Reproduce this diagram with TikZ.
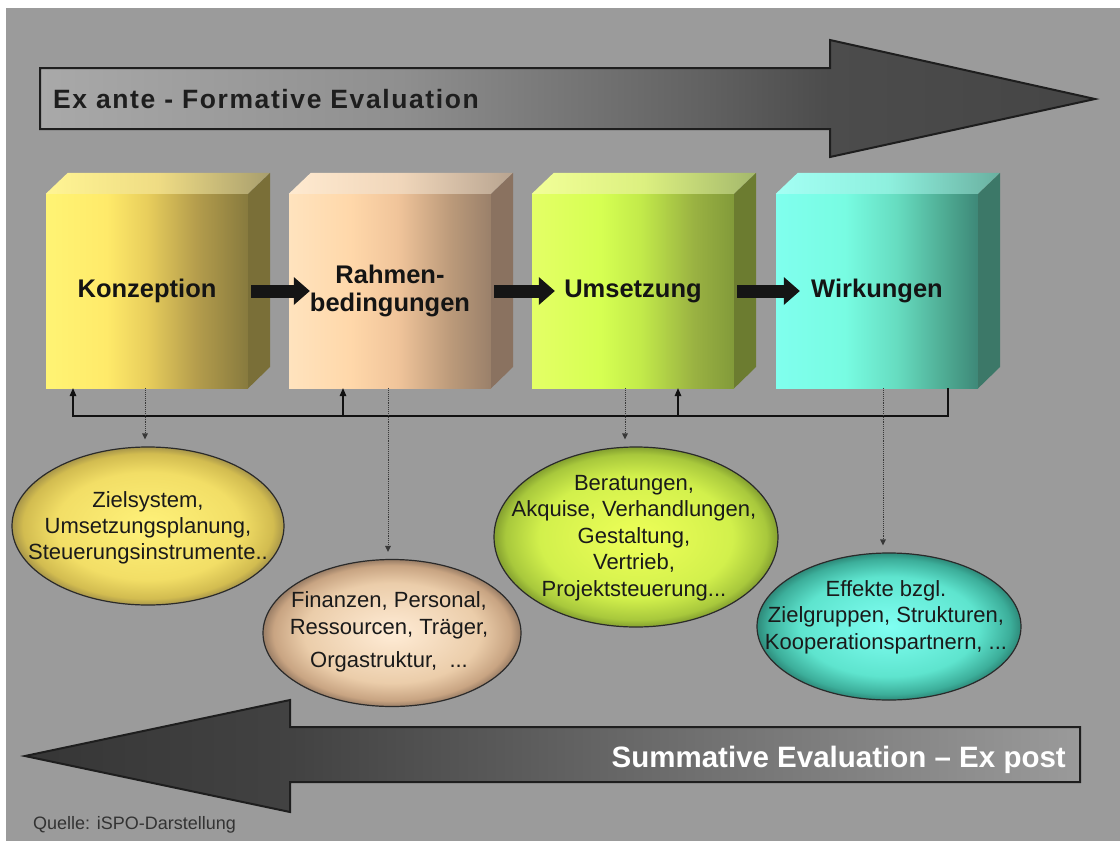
\documentclass[tikz,border=0pt]{standalone}
\usepackage{fontspec}
\setmainfont{Liberation Sans}
\usetikzlibrary{shapes.geometric,arrows.meta}

\definecolor{bggray}{HTML}{9B9B9B}
\definecolor{arrowline}{HTML}{1E1E1E}
\definecolor{titledark}{HTML}{1E1E1E}
\definecolor{labelblack}{HTML}{141414}
\definecolor{textdark}{HTML}{1A1A1A}
\definecolor{outline}{HTML}{2A2A2A}
\definecolor{arrowblack}{HTML}{151515}
\definecolor{fbblack}{HTML}{111111}
\definecolor{dotgray}{HTML}{383838}
\definecolor{quellegray}{HTML}{333333}

% big arrows
\definecolor{xa0}{HTML}{A9A9A9}\definecolor{xa1}{HTML}{8F8F8F}\definecolor{xa2}{HTML}{626262}\definecolor{xa3}{HTML}{4C4C4C}\definecolor{xa4}{HTML}{454545}
\definecolor{sa0}{HTML}{363636}\definecolor{sa1}{HTML}{424242}\definecolor{sa2}{HTML}{595959}\definecolor{sa3}{HTML}{767676}\definecolor{sa4}{HTML}{9A9A9A}
\pgfdeclarehorizontalshading{exanteshade}{100bp}{color(0bp)=(xa0); color(25bp)=(xa0); color(42.1bp)=(xa1); color(56.3bp)=(xa2); color(62.4bp)=(xa3); color(75bp)=(xa4); color(100bp)=(xa4)}
\pgfdeclarehorizontalshading{expostshade}{100bp}{color(0bp)=(sa0); color(25bp)=(sa0); color(37.6bp)=(sa1); color(47.5bp)=(sa2); color(59.4bp)=(sa3); color(75bp)=(sa4); color(100bp)=(sa4)}

% box fronts
\definecolor{fa0}{HTML}{FFF474}\definecolor{fa1}{HTML}{FFEA6A}\definecolor{fa2}{HTML}{E8CE5C}\definecolor{fa3}{HTML}{B39C4C}\definecolor{fa4}{HTML}{877A3E}
\definecolor{fb0}{HTML}{FFE3BE}\definecolor{fb1}{HTML}{FFD8AA}\definecolor{fb2}{HTML}{F0C49A}\definecolor{fb3}{HTML}{BB9A7A}\definecolor{fb4}{HTML}{9A806A}
\definecolor{fc0}{HTML}{E4FF66}\definecolor{fc1}{HTML}{D6FF52}\definecolor{fc2}{HTML}{C2EA4A}\definecolor{fc3}{HTML}{9AB242}\definecolor{fc4}{HTML}{829A3A}
\definecolor{fd0}{HTML}{80FFEE}\definecolor{fd1}{HTML}{78FCE2}\definecolor{fd2}{HTML}{66DCC0}\definecolor{fd3}{HTML}{4EAA92}\definecolor{fd4}{HTML}{3E8878}
\pgfdeclarehorizontalshading{frontA}{100bp}{color(0bp)=(fa0); color(25bp)=(fa0); color(40bp)=(fa1); color(50bp)=(fa2); color(62.5bp)=(fa3); color(75bp)=(fa4); color(100bp)=(fa4)}
\pgfdeclarehorizontalshading{frontB}{100bp}{color(0bp)=(fb0); color(25bp)=(fb0); color(40bp)=(fb1); color(52bp)=(fb2); color(65bp)=(fb3); color(75bp)=(fb4); color(100bp)=(fb4)}
\pgfdeclarehorizontalshading{frontC}{100bp}{color(0bp)=(fc0); color(25bp)=(fc0); color(42bp)=(fc1); color(52bp)=(fc2); color(65bp)=(fc3); color(75bp)=(fc4); color(100bp)=(fc4)}
\pgfdeclarehorizontalshading{frontD}{100bp}{color(0bp)=(fd0); color(25bp)=(fd0); color(42bp)=(fd1); color(55bp)=(fd2); color(67bp)=(fd3); color(75bp)=(fd4); color(100bp)=(fd4)}

% box tops and sides
\definecolor{ta0}{HTML}{FFF594}\definecolor{ta1}{HTML}{EFDC84}\definecolor{ta2}{HTML}{A89E6E}
\definecolor{tb0}{HTML}{FFEAD0}\definecolor{tb1}{HTML}{F0D6BA}\definecolor{tb2}{HTML}{B8A490}
\definecolor{tc0}{HTML}{F2FF98}\definecolor{tc1}{HTML}{DCF080}\definecolor{tc2}{HTML}{A4B86C}
\definecolor{td0}{HTML}{A4FFF4}\definecolor{td1}{HTML}{8EF0DE}\definecolor{td2}{HTML}{6AB0A0}
\pgfdeclarehorizontalshading{topA}{100bp}{color(0bp)=(ta0); color(25bp)=(ta0); color(50bp)=(ta1); color(75bp)=(ta2); color(100bp)=(ta2)}
\pgfdeclarehorizontalshading{topB}{100bp}{color(0bp)=(tb0); color(25bp)=(tb0); color(50bp)=(tb1); color(75bp)=(tb2); color(100bp)=(tb2)}
\pgfdeclarehorizontalshading{topC}{100bp}{color(0bp)=(tc0); color(25bp)=(tc0); color(50bp)=(tc1); color(75bp)=(tc2); color(100bp)=(tc2)}
\pgfdeclarehorizontalshading{topD}{100bp}{color(0bp)=(td0); color(25bp)=(td0); color(50bp)=(td1); color(75bp)=(td2); color(100bp)=(td2)}
\definecolor{sideA}{HTML}{7A6F38}
\definecolor{sideB}{HTML}{8A7260}
\definecolor{sideC}{HTML}{6C7C30}
\definecolor{sideD}{HTML}{3C7868}

% ellipses
\definecolor{ea0}{HTML}{FFF27A}\definecolor{ea1}{HTML}{F2DE66}\definecolor{ea2}{HTML}{D2BC50}\definecolor{ea3}{HTML}{A8964A}
\definecolor{eb0}{HTML}{FFECD6}\definecolor{eb1}{HTML}{EBCDAA}\definecolor{eb2}{HTML}{C8A482}\definecolor{eb3}{HTML}{9A7E66}
\definecolor{ec0}{HTML}{EEFF58}\definecolor{ec1}{HTML}{D2F04C}\definecolor{ec2}{HTML}{A8C83C}\definecolor{ec3}{HTML}{84A030}
\definecolor{ed0}{HTML}{80FFF2}\definecolor{ed1}{HTML}{5EE4CE}\definecolor{ed2}{HTML}{3CAE9A}\definecolor{ed3}{HTML}{2E8A7A}
\pgfdeclareradialshading{ellA}{\pgfpoint{0bp}{0bp}}{color(0bp)=(ea0); color(17bp)=(ea1); color(23bp)=(ea2); color(25bp)=(ea3); color(50bp)=(ea3)}
\pgfdeclareradialshading{ellB}{\pgfpoint{0bp}{0bp}}{color(0bp)=(eb0); color(17bp)=(eb1); color(23bp)=(eb2); color(25bp)=(eb3); color(50bp)=(eb3)}
\pgfdeclareradialshading{ellC}{\pgfpoint{0bp}{0bp}}{color(0bp)=(ec0); color(17bp)=(ec1); color(23bp)=(ec2); color(25bp)=(ec3); color(50bp)=(ec3)}
\pgfdeclareradialshading{ellD}{\pgfpoint{0bp}{0bp}}{color(0bp)=(ed0); color(17bp)=(ed1); color(23bp)=(ed2); color(25bp)=(ed3); color(50bp)=(ed3)}

\tikzset{
  boxface/.style={shade, inner sep=0pt, minimum width=202pt, minimum height=194pt,
    font=\fontsize{25.5}{28}\selectfont\bfseries, text=labelblack, align=center},
  bubble/.style={ellipse, shade, inner sep=0pt, draw=outline, line width=1.2pt},
  bubbletext/.style={align=center, font=\fontsize{22}{26.5}\selectfont, text=textdark, inner sep=0pt},
  flowarrow/.style={draw=arrowblack, line width=13pt, -{Triangle[length=16pt,width=28pt,line width=0pt]}},
  fbline/.style={draw=fbblack, line width=2pt},
  fbarrow/.style={fbline, -{Triangle[length=8pt,width=7pt,line width=0pt]}},
  dotarrow/.style={draw=dotgray, line width=0.9pt, densely dotted, -{Triangle[length=6pt,width=6pt,line width=0pt]}, shorten >=7pt},
}

\begin{document}
\begin{tikzpicture}[x=1pt,y=-1pt]
\useasboundingbox (0,0) rectangle (1120,841);
\fill[white] (0,0) rectangle (1120,841);
\fill[bggray] (6,8) rectangle (1120,841);

% top arrow
\path[shade, shading=exanteshade, draw=arrowline, line width=2pt, line join=miter]
  (40,68) -- (830,68) -- (830,40) -- (1095,99) -- (830,157) -- (830,129) -- (40,129) -- cycle;
\node[anchor=west, inner sep=0pt, text=titledark,
  font=\fontsize{26.5}{30}\selectfont\bfseries\addfontfeature{LetterSpace=6}] (exante) at (53,99)
  {Ex ante - Formative Evaluation};

% boxes
\node[boxface, shading=frontA] (k1) at (147,291) {Konzeption};
\node[boxface, shading=frontB] (k2) at (390,291) {Rahmen-\\bedingungen};
\node[boxface, shading=frontC] (k3) at (633,291) {Umsetzung};
\node[boxface, shading=frontD] (k4) at (877,291) {Wirkungen};

\path[shade, shading=topA] (k1.north west) -- ++(22,-21) -- ++(202,0) -- (k1.north east) -- cycle;
\path[shade, shading=topB] (k2.north west) -- ++(22,-21) -- ++(202,0) -- (k2.north east) -- cycle;
\path[shade, shading=topC] (k3.north west) -- ++(22,-21) -- ++(202,0) -- (k3.north east) -- cycle;
\path[shade, shading=topD] (k4.north west) -- ++(22,-21) -- ++(202,0) -- (k4.north east) -- cycle;
\fill[sideA] (k1.north east) -- ++(22,-21) -- ++(0,194) -- (k1.south east) -- cycle;
\fill[sideB] (k2.north east) -- ++(22,-21) -- ++(0,194) -- (k2.south east) -- cycle;
\fill[sideC] (k3.north east) -- ++(22,-21) -- ++(0,194) -- (k3.south east) -- cycle;
\fill[sideD] (k4.north east) -- ++(22,-21) -- ++(0,194) -- (k4.south east) -- cycle;

% flow arrows
\draw[flowarrow] ([xshift=3pt]k1.east) -- ([xshift=21pt]k2.west);
\draw[flowarrow] ([xshift=3pt]k2.east) -- ([xshift=23pt]k3.west);
\draw[flowarrow] ([xshift=3pt]k3.east) -- ([xshift=24pt]k4.west);

% feedback loop
\coordinate (fbY) at (0,416);
\coordinate (u1) at ([xshift=-74pt]k1.south);
\coordinate (u2) at ([xshift=-47pt]k2.south);
\coordinate (u3) at ([xshift=45pt]k3.south);
\coordinate (u4) at ([xshift=71pt]k4.south);
\draw[fbarrow] (u4) -- (u4 |- fbY) -- (u1 |- fbY) -- (u1);
\draw[fbarrow] (u2 |- fbY) -- (u2);
\draw[fbarrow] (u3 |- fbY) -- (u3);

% ellipses
\node[bubble, shading=ellA, minimum width=272pt, minimum height=158pt] (e1) at (148,526) {};
\node[bubble, shading=ellB, minimum width=258pt, minimum height=147pt] (e2) at (392,633) {};
\node[bubble, shading=ellC, minimum width=284pt, minimum height=180pt] (e3) at (636,537) {};
\node[bubble, shading=ellD, minimum width=264pt, minimum height=147pt] (e4) at (889,626.5) {};

\node[bubbletext, font=\fontsize{22}{26}\selectfont] (e1t) at (148,528)
  {Zielsystem,\\Umsetzungsplanung,\\Steuerungsinstrumente..};
\node[bubbletext] (e2t) at (389,632)
  {Finanzen, Personal,\\Ressourcen, Träger,\\[7pt]Orgastruktur, \ ...};
\node[bubbletext] (e3t) at (634,538)
  {Beratungen,\\Akquise, Verhandlungen,\\Gestaltung,\\Vertrieb,\\Projektsteuerung...};
\node[bubbletext] (e4t) at (886,617)
  {Effekte bzgl.\\Zielgruppen, Strukturen,\\Kooperationspartnern, ...};

% dotted arrows
\coordinate (d1) at ([xshift=-2pt]k1.south);
\coordinate (d2) at ([xshift=-2pt]k2.south);
\coordinate (d3) at ([xshift=-8pt]k3.south);
\coordinate (d4) at ([xshift=6pt]k4.south);
\draw[dotarrow] (d1) -- (d1 |- e1.north);
\draw[dotarrow] (d2) -- (d2 |- e2.north);
\draw[dotarrow] (d3) -- (d3 |- e3.north);
\draw[dotarrow] (d4) -- (d4 |- e4.north);

% bottom arrow
\path[shade, shading=expostshade, draw=arrowline, line width=2pt, line join=miter]
  (25,756) -- (290,700) -- (290,727) -- (1080,727) -- (1080,782) -- (290,782) -- (290,812) -- cycle;
\node[anchor=base east, inner sep=0pt, text=white,
  font=\fontsize{29.5}{33}\selectfont\bfseries] (expost) at (1066,767)
  {Summative Evaluation – Ex post};

\node[anchor=base west, inner sep=0pt, text=quellegray, font=\fontsize{18}{20}\selectfont] (quelle) at (33,829)
  {Quelle: iSPO-Darstellung};
\end{tikzpicture}
\end{document}
